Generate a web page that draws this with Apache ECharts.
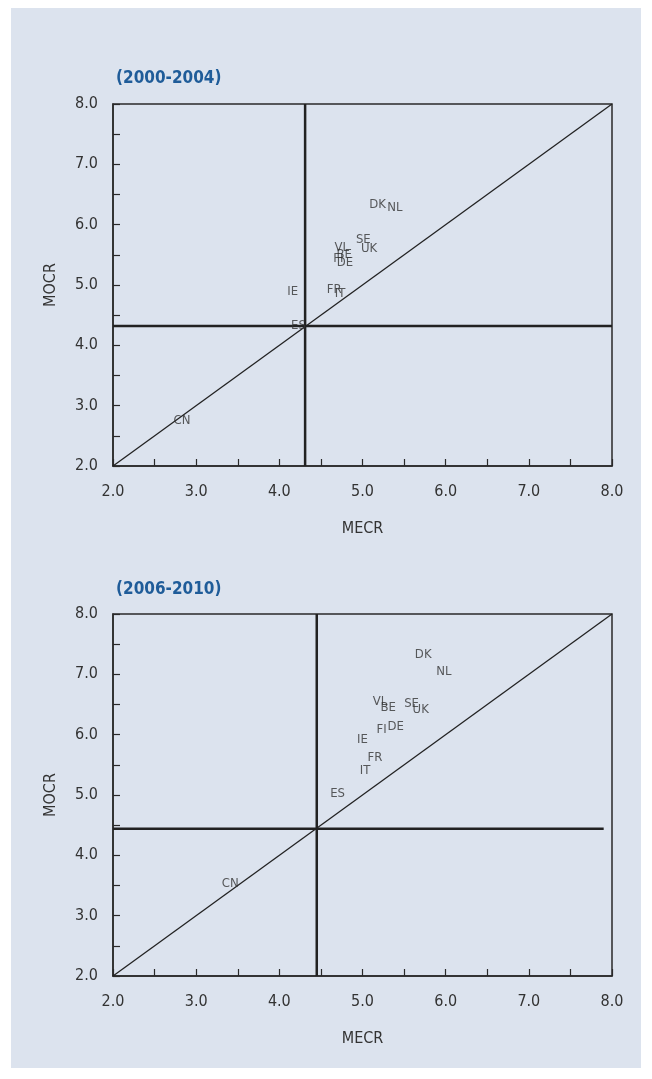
<!DOCTYPE html>
<html>
<head>
<meta charset="utf-8">
<script src="https://cdn.jsdelivr.net/npm/echarts@6/dist/echarts.min.js"></script>
<style>
html,body{margin:0;padding:0;background:#ffffff;}
#c{width:652px;height:1079px;}
</style>
</head>
<body>
<div id="c"></div>
<script>
// Country labels
const countries1 = ['DK','NL','SE','UK','VL','BE','FI','DE','IE','FR','IT','ES','CN'];
const mecr1 = [5.18,5.39,5.01,5.08,4.75,4.78,4.71,4.79,4.16,4.66,4.73,4.23,2.83];
const mocr1 = [6.34,6.29,5.76,5.61,5.62,5.50,5.43,5.37,4.89,4.92,4.85,4.33,2.75];

const countries2 = ['DK','NL','VL','BE','SE','UK','FI','DE','IE','FR','IT','ES','CN'];
const mecr2 = [5.73,5.98,5.21,5.31,5.59,5.70,5.23,5.40,5.00,5.15,5.03,4.70,3.41];
const mocr2 = [7.32,7.04,6.55,6.45,6.52,6.41,6.08,6.13,5.91,5.62,5.40,5.03,3.53];

// Averages (crosshair lines)
const avgMECR1 = 4.31, avgMOCR1 = 4.32, hEnd1 = 8.0;
const avgMECR2 = 4.45, avgMOCR2 = 4.44, hEnd2 = 7.9;

const titles = ['(2000-2004)', '(2006-2010)'];
const axisMin = 2, axisMax = 8;
const xName = 'MECR', yName = 'MOCR';

const FONT = "'DejaVu Sans Condensed','DejaVu Sans',sans-serif";
const INK = '#2a2a2a';

const chart = echarts.init(document.getElementById('c'), null, {renderer:'canvas'});

const grids = [
  {left:113, top:104, width:499, height:362},
  {left:113, top:614, width:499, height:362}
];

function fmt(v){ return Math.abs(v - Math.round(v)) < 1e-9 ? v.toFixed(1) : ''; }

function mkX(i){
  return {
    gridIndex:i, type:'value', min:axisMin, max:axisMax, interval:0.5,
    name:xName, nameLocation:'middle', nameGap:55,
    nameTextStyle:{fontFamily:FONT, fontSize:16, color:'#333'},
    axisLine:{show:true, lineStyle:{color:INK, width:1.5}},
    axisTick:{show:true, inside:true, length:7, lineStyle:{color:INK, width:1.2}},
    axisLabel:{margin:18, fontFamily:FONT, fontSize:16, color:'#333', formatter:fmt},
    splitLine:{show:false}
  };
}
function mkY(i){
  return {
    gridIndex:i, type:'value', min:axisMin, max:axisMax, interval:0.5,
    name:yName, nameLocation:'middle', nameGap:54, nameRotate:90,
    nameTextStyle:{fontFamily:FONT, fontSize:16, color:'#333'},
    axisLine:{show:true, lineStyle:{color:INK, width:1.5}},
    axisTick:{show:true, inside:true, length:7, lineStyle:{color:INK, width:1.2}},
    axisLabel:{margin:15, fontFamily:FONT, fontSize:16, color:'#333', formatter:fmt},
    splitLine:{show:false}
  };
}

function labelsSeries(i, names, xs, ys){
  return {
    type:'scatter', xAxisIndex:i, yAxisIndex:i, symbolSize:1,
    itemStyle:{color:'rgba(0,0,0,0)'}, silent:true, z:5,
    label:{show:true, position:'inside', formatter:p => p.data[2],
      fontFamily:FONT, fontSize:13, color:'#333'},
    data: names.map((n,k)=>[xs[k], ys[k], n])
  };
}
function lineSeries(i, pts, w){
  return {
    type:'line', xAxisIndex:i, yAxisIndex:i, symbol:'none', silent:true, z:3,
    lineStyle:{color:'#222', width:w}, data:pts, animation:false
  };
}

const series = [
  lineSeries(0, [[axisMin,axisMin],[axisMax,axisMax]], 1.3),
  lineSeries(0, [[avgMECR1,axisMin],[avgMECR1,axisMax]], 2.5),
  lineSeries(0, [[axisMin,avgMOCR1],[hEnd1,avgMOCR1]], 2.5),
  labelsSeries(0, countries1, mecr1, mocr1),
  lineSeries(1, [[axisMin,axisMin],[axisMax,axisMax]], 1.3),
  lineSeries(1, [[avgMECR2,axisMin],[avgMECR2,axisMax]], 2.5),
  lineSeries(1, [[axisMin,avgMOCR2],[hEnd2,avgMOCR2]], 2.5),
  labelsSeries(1, countries2, mecr2, mocr2)
];

chart.setOption({
  animation:false,
  backgroundColor:'#ffffff',
  graphic:[
    {type:'rect', z:-10, shape:{x:11, y:8, width:630, height:1060}, style:{fill:'#dce3ee'}}
  ],
  title: titles.map((t,i)=>({
    text:t, left:111, top:i===0?65:576,
    textStyle:{fontFamily:FONT, fontSize:17, fontWeight:'bold', color:'#1f5c99'}
  })),
  grid: grids.map(g=>Object.assign({show:true, borderColor:INK, borderWidth:1.5, backgroundColor:'transparent'}, g)),
  xAxis:[mkX(0), mkX(1)],
  yAxis:[mkY(0), mkY(1)],
  series: series
});
</script>
</body>
</html>
